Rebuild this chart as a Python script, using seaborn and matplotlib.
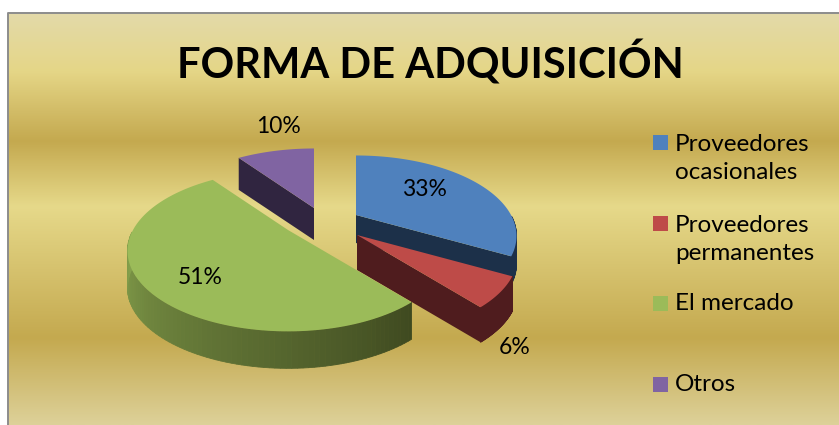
import numpy as np
import matplotlib
matplotlib.use("Agg")
import matplotlib.pyplot as plt
import seaborn as sns
from matplotlib.colors import LinearSegmentedColormap, to_rgb
from matplotlib.patches import Polygon, Rectangle

title = "FORMA DE ADQUISICIÓN"
categories = ["Proveedores\nocasionales", "Proveedores\npermanentes", "El mercado", "Otros"]
values = [33, 6, 51, 10]

W, H = 839, 425

sns.set_theme(style="white")
plt.rcParams['font.family'] = ['Lato', 'DejaVu Sans']

top_colors = sns.color_palette(["#4F81BD", "#BE4B48", "#9BBB59", "#8064A2"])
side_colors = ["#1C3049", "#4F1C1E", "#3F4A20", "#302540"]

# pie geometry in pixels of the picture
center = (330, 225)
explode = [(26, -10), (27, 10), (-42, 5), (-16, -17)]
radius_x, radius_y = 155, 75
persp = 0.26
depth = [28, 35, 37, 32]

# layout of the texts and the legend
label_pos = [(424, 189), (515, 348), (200, 278), (278, 126)]
legend_box_y = [142.5, 223.5, 303.5, 384.5]
legend_text_y = [158.5, 239.5, 303.5, 384.5]


def project(cx, cy, theta):
    u, v = np.sin(theta), -np.cos(theta)
    s = 1 / (1 - persp * v)
    return cx + radius_x * u * s, cy + radius_y * v * s


fig = plt.figure(figsize=(W / 100, H / 100), dpi=100, facecolor="white")
ax = fig.add_axes([0, 0, 1, 1])
ax.axis("off")

# gold background of the chart area
bg = LinearSegmentedColormap.from_list("gold", [
    (0.00, "#E3DAA9"), (0.14, "#E5D687"), (0.31, "#C4A94F"), (0.47, "#E6D98A"),
    (0.79, "#C4A94F"), (1.00, "#DDD199")])
ax.imshow(np.linspace(0, 1, 256)[:, None], cmap=bg, extent=(8, W, H, 13),
          aspect="auto", zorder=0)
ax.set_xlim(0, W)
ax.set_ylim(H, 0)
ax.plot([8, 8, W], [H, 13, 13], color="#8C8C8C", lw=1.4, zorder=1)

# slice angles come from the values, clockwise from twelve o'clock
ends = np.cumsum(values) / np.sum(values) * 2 * np.pi
starts = np.r_[0, ends[:-1]]

# back slices first, so the front ones cover them
for i in [3, 0, 1, 2]:
    cx = center[0] + explode[i][0]
    cy = center[1] + explode[i][1]
    th = np.linspace(starts[i], ends[i], 120)
    x, y = project(cx, cy, th)

    # radial side that faces the viewer
    side_th = starts[i] if i == 3 else ends[i]
    ex, ey = project(cx, cy, side_th)
    if i != 2:
        ax.add_patch(Polygon([(cx, cy), (ex, ey), (ex, ey + depth[i]), (cx, cy + depth[i])],
                             color=side_colors[i], lw=0, zorder=2 + i))

    # outer rim, only the part in front
    front = (th > np.pi / 2) & (th < 3 * np.pi / 2)
    if front.any():
        fx, fy = x[front], y[front]
        ft = th[front]
        for j in range(len(fx) - 1):
            if i == 2:
                t = (ft[j] - ft[0]) / (ft[-1] - ft[0])
                col = np.array(to_rgb("#3F4A20")) * (1 - t) + np.array(to_rgb("#86A24D")) * t
            else:
                col = side_colors[i]
            ax.add_patch(Polygon([(fx[j], fy[j]), (fx[j + 1], fy[j + 1]),
                                  (fx[j + 1], fy[j + 1] + depth[i]), (fx[j], fy[j] + depth[i])],
                                 facecolor=col, edgecolor=col, lw=0.6, zorder=2 + i))

    ax.add_patch(Polygon(np.c_[np.r_[cx, x], np.r_[cy, y]], color=top_colors[i], lw=0, zorder=2 + i))

ax.text(430, 63, title, fontsize=30, fontweight="bold", color="black",
        ha="center", va="center", zorder=10)

for v, (px, py) in zip(values, label_pos):
    ax.text(px, py, f"{v}%", fontsize=16.5, color="black", ha="center", va="center", zorder=10)

for i, name in enumerate(categories):
    ax.add_patch(Rectangle((653, legend_box_y[i] - 7.5), 15, 15, color=top_colors[i], lw=0, zorder=10))
    ax.text(675, legend_text_y[i], name, fontsize=17.5, color="black", ha="left", va="center",
            linespacing=1.45, zorder=10)

fig.savefig("out.png", dpi=100, facecolor="white")
